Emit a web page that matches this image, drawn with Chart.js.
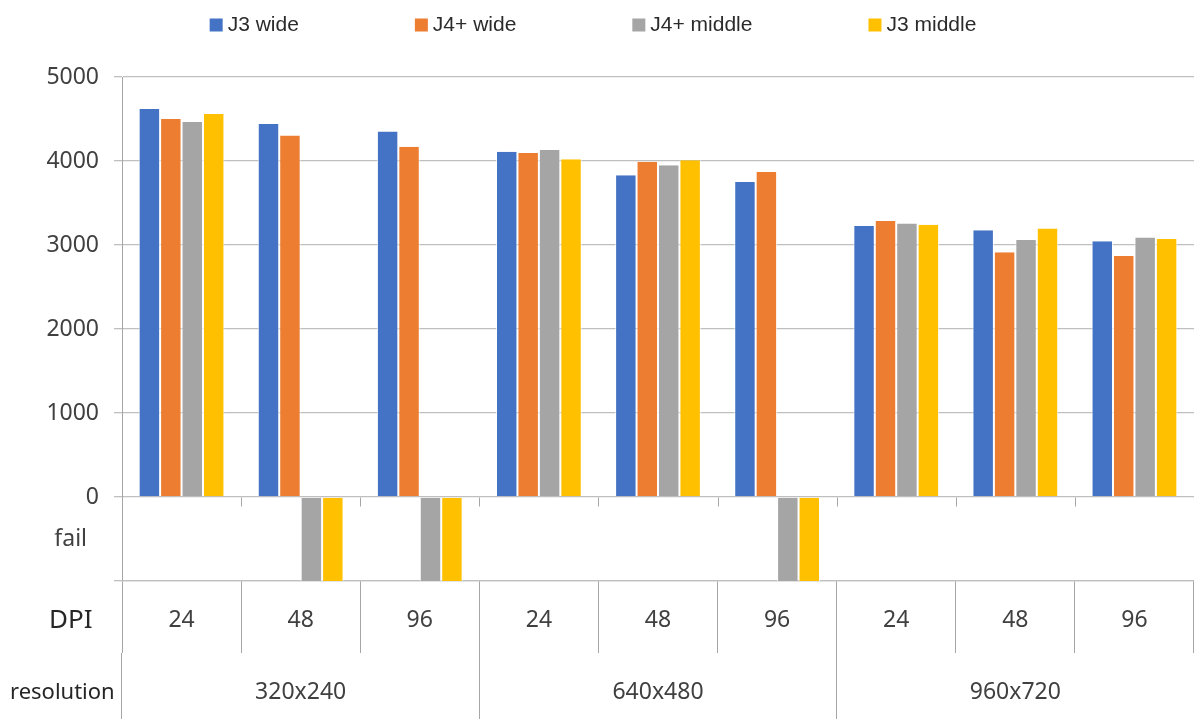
<!DOCTYPE html>
<html>
<head>
<meta charset="utf-8">
<title>Throughput by resolution and DPI</title>
<script src="https://cdn.jsdelivr.net/npm/chart.js@4.4.1/dist/chart.umd.min.js"></script>
<style>
  html, body { margin: 0; padding: 0; background: #ffffff; }
  #wrap { width: 1194px; height: 719px; }
</style>
</head>
<body>
<div id="wrap"><canvas id="chart" width="1194" height="719"></canvas></div>
<script>
// ---- data ----
const dpiLabels = ['24', '48', '96', '24', '48', '96', '24', '48', '96'];
const resolutionLabels = ['320x240', '640x480', '960x720'];
const FAIL = -1000; // runs that failed are drawn down into the "fail" band
const seriesNames = ['J3 wide', 'J4+ wide', 'J4+ middle', 'J3 middle'];
const j3Wide   = [4620, 4440, 4350, 4110, 3830, 3750, 3225, 3175, 3045];
const j4Wide   = [4500, 4305, 4170, 4095, 3990, 3870, 3285, 2915, 2870];
const j4Middle = [4465, FAIL, FAIL, 4130, 3950, FAIL, 3255, 3060, 3090];
const j3Middle = [4560, FAIL, FAIL, 4020, 4010, FAIL, 3240, 3195, 3070];
const yTickValues = [-1000, -500, 0, 1000, 2000, 3000, 4000, 5000];
const seriesColors = ['#4472C4', '#ED7D31', '#A5A5A5', '#FFC000'];

const seriesValues = [j3Wide, j4Wide, j4Middle, j3Middle];

const GRID = '#bfbfbf';
const AXIS = '#a6a6a6';
const TEXT = '#404040';

// legend, row headers and the small marks under the zero line
const decorations = {
  id: 'decorations',
  afterDraw(chart) {
    const ctx = chart.ctx;
    const x = chart.scales.x;
    const y = chart.scales.y;
    ctx.save();

    // tick marks hanging below the zero line at every category boundary
    const y0 = Math.round(y.getPixelForValue(0)) + 0.5;
    ctx.strokeStyle = AXIS;
    ctx.lineWidth = 1;
    ctx.beginPath();
    for (let i = 1; i < dpiLabels.length; i++) {
      const px = Math.round(x.getPixelForValue(i - 0.5)) + 0.5;
      ctx.moveTo(px, y0);
      ctx.lineTo(px, y0 + 9);
    }
    ctx.stroke();

    // row headers of the category table
    ctx.fillStyle = '#262626';
    ctx.textBaseline = 'middle';
    ctx.textAlign = 'left';
    ctx.font = '26px "Noto Sans"';
    ctx.fillText('DPI', 49, 621);
    ctx.font = '22px "Noto Sans"';
    ctx.fillText('resolution', 10, 693);

    // legend
    ctx.font = '21px "Liberation Sans"';
    const box = 13, gap = 5, spacing = 116;
    const widths = seriesNames.map(n => box + gap + ctx.measureText(n).width);
    const total = widths.reduce((a, b) => a + b, 0) + spacing * (seriesNames.length - 1);
    let lx = chart.width / 2 - 4 - total / 2;
    const ly = 25;
    seriesNames.forEach((name, i) => {
      ctx.fillStyle = seriesColors[i];
      ctx.fillRect(lx, ly - box / 2, box, box);
      ctx.fillStyle = '#2b2b2b';
      ctx.fillText(name, lx + box + gap, ly);
      lx += widths[i] + spacing;
    });
    ctx.restore();
  }
};

new Chart(document.getElementById('chart'), {
  type: 'bar',
  data: {
    labels: dpiLabels,
    datasets: seriesNames.map((name, i) => ({
      label: name,
      data: seriesValues[i],
      backgroundColor: seriesColors[i],
      borderColor: 'rgba(255,255,255,0.75)',
      borderWidth: { left: 1, right: 1, top: 0, bottom: 0 },
      borderSkipped: false,
      categoryPercentage: 0.72,
      barPercentage: 1.0
    }))
  },
  options: {
    responsive: false,
    animation: false,
    layout: { padding: { top: 77, right: 0, bottom: 0, left: 0 } },
    plugins: {
      legend: { display: false },
      tooltip: { enabled: false }
    },
    scales: {
      y: {
        min: -1000,
        max: 5000,
        afterBuildTicks(scale) {
          scale.ticks = yTickValues.map(v => ({ value: v }));
        },
        afterFit(scale) { scale.width = 122; },
        grid: {
          color: ctx => (ctx.tick && ctx.tick.value === -500) ? 'rgba(0,0,0,0)' : GRID,
          lineWidth: 1.3,
          tickLength: 8
        },
        border: { display: true, color: AXIS, width: 1 },
        ticks: {
          padding: 15,
          color: TEXT,
          font: { family: '"Noto Sans"', size: 23 },
          callback(value) {
            if (value === -500) return 'fail  ';
            if (value === -1000) return '';
            return String(value);
          }
        }
      },
      x: {
        type: 'category',
        position: 'bottom',
        weight: 0,
        afterFit(scale) { scale.height = 72; },
        grid: {
          offset: true,
          drawOnChartArea: false,
          drawTicks: true,
          tickLength: 72,
          color: AXIS,
          lineWidth: 1
        },
        border: { display: true, color: GRID, width: 1.3 },
        ticks: {
          padding: -46,
          color: TEXT,
          maxRotation: 0,
          autoSkip: false,
          font: { family: '"Noto Sans"', size: 23 }
        }
      },
      x2: {
        type: 'category',
        labels: resolutionLabels,
        position: 'bottom',
        weight: 1,
        afterFit(scale) { scale.height = 66; },
        grid: {
          offset: true,
          drawOnChartArea: false,
          drawTicks: true,
          tickLength: 66,
          color: AXIS,
          lineWidth: 1
        },
        border: { display: false },
        ticks: {
          padding: -40,
          color: TEXT,
          maxRotation: 0,
          autoSkip: false,
          font: { family: '"Noto Sans"', size: 23 }
        }
      }
    }
  },
  plugins: [decorations]
});
</script>
</body>
</html>
